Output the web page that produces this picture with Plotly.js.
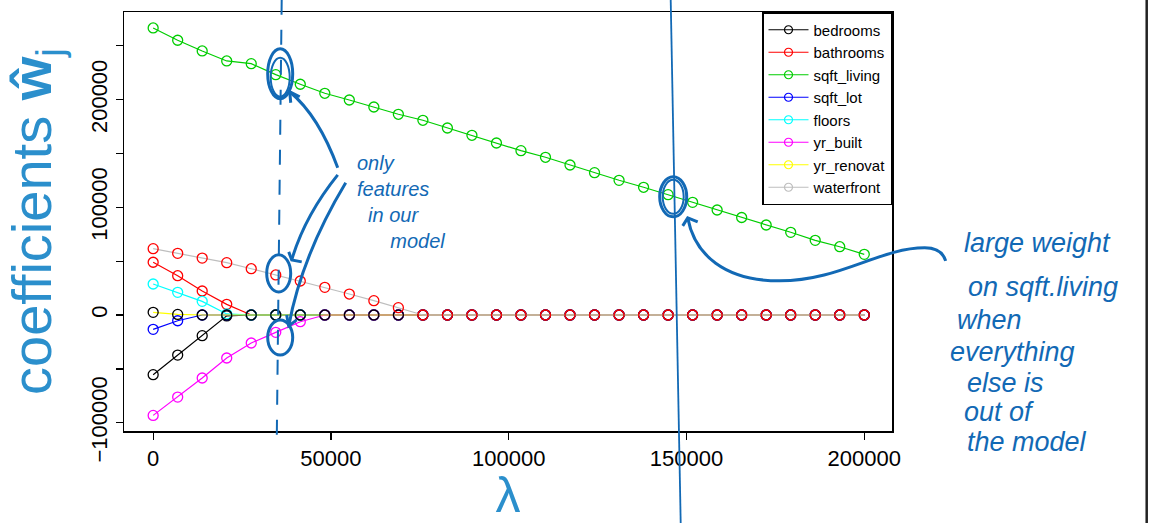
<!DOCTYPE html>
<html>
<head>
<meta charset="utf-8">
<script src="https://cdn.plot.ly/plotly-3.0.1.min.js"></script>
<style>html,body{margin:0;padding:0;background:#fff;}#chart{width:1155px;height:523px;}</style>
</head>
<body>
<div id="chart"></div>
<script>
// ---- data ----
const lambdas = [0, 6897, 13793, 20690, 27586, 34483, 41379, 48276, 55172, 62069,
  68966, 75862, 82759, 89655, 96552, 103448, 110345, 117241, 124138, 131034,
  137931, 144828, 151724, 158621, 165517, 172414, 179310, 186207, 193103, 200000];

const featureNames = ['bedrooms','bathrooms','sqft_living','sqft_lot','floors','yr_built','yr_renovated','waterfront'];
const legendLabels = ['bedrooms','bathrooms','sqft_living','sqft_lot','floors','yr_built','yr_renovat','waterfront'];

const bedrooms = [-55400,-37200,-19200,-800,0,0,0,0,0,0,0,0,0,0,0,0,0,0,0,0,0,0,0,0,0,0,0,0,0,0];
const bathrooms = [49000,36500,22300,9900,0,0,0,0,0,0,0,0,0,0,0,0,0,0,0,0,0,0,0,0,0,0,0,0,0,0];
const sqft_living = [266580,255160,245220,235930,233420,223200,214290,205920,199700,193200,
  186420,180850,173700,166920,159760,152610,146480,139330,132170,125110,
  118620,111740,104680,97530,90560,83600,76820,69390,63440,56380];
const sqft_lot = [-13300,-5300,0,0,0,0,0,0,0,0,0,0,0,0,0,0,0,0,0,0,0,0,0,0,0,0,0,0,0,0];
const floors = [28800,21100,12700,1000,0,0,0,0,0,0,0,0,0,0,0,0,0,0,0,0,0,0,0,0,0,0,0,0,0,0];
const yr_built = [-93200,-76200,-58500,-39900,-26000,-16100,-6200,0,0,0,0,0,0,0,0,0,0,0,0,0,0,0,0,0,0,0,0,0,0,0];
const yr_renovated = [2500,600,0,0,0,0,0,0,0,0,0,0,0,0,0,0,0,0,0,0,0,0,0,0,0,0,0,0,0,0];
const waterfront = [61600,57300,52900,48600,43000,37200,31600,25700,19500,13300,6800,0,0,0,0,0,0,0,0,0,0,0,0,0,0,0,0,0,0,0];

const xTickVals = [0, 50000, 100000, 150000, 200000];
const xTickText = ['0','50000','100000','150000','200000'];
const yTickVals = [-100000, 0, 100000, 200000];
const yTickText = ['\u2212100000','0','100000','200000'];

// ---- styles ----
const seriesList = [bedrooms,bathrooms,sqft_living,sqft_lot,floors,yr_built,yr_renovated,waterfront];
const lineColors = ['#000000','#FF0000','#00CD00','#0000FF','#00FFFF','#FF00FF','#FFFF00','#BEBEBE'];
// matplot default point colours (1:6 recycled)
const pointColors = ['#000000','#FF0000','#00CD00','#0000FF','#00FFFF','#FF00FF','#000000','#FF0000'];

const titleBlue = '#2b8fcc';
const ink = '#1269b5';

const traces = [];
seriesList.forEach((ys, i) => {
  traces.push({
    x: lambdas, y: ys, type: 'scatter', mode: 'lines+markers',
    name: featureNames[i], showlegend: false, hoverinfo: 'x+y+name',
    line: {color: lineColors[i], width: 1.2},
    marker: {symbol: 'circle-open', size: 10, color: pointColors[i], line: {width: 1.3, color: pointColors[i]}}
  });
});
legendLabels.forEach((lab, i) => {
  traces.push({
    x: [null], y: [null], type: 'scatter', mode: 'lines+markers',
    name: lab, showlegend: true,
    line: {color: lineColors[i], width: 1.2},
    marker: {symbol: 'circle-open', size: 8, color: lineColors[i], line: {width: 1.2, color: lineColors[i]}}
  });
});

// pixel -> paper helpers for the hand-drawn notes
const L = 124.3, R = 892.3, T = 12.3, B = 431;
const PX = v => (v - L) / (R - L);
const PY = v => (B - v) / (B - T);
const pt = (x, y) => PX(x).toFixed(4) + ',' + PY(y).toFixed(4);

const inkLine = {color: ink, width: 3};
const shapes = [
  // hand-drawn vertical markers
  {type:'line', xref:'paper', yref:'paper', x0:PX(282), y0:PY(0), x1:PX(277), y1:PY(445), line:{color:ink, width:2, dash:'longdash'}},
  {type:'line', xref:'paper', yref:'paper', x0:PX(671), y0:PY(0), x1:PX(681), y1:PY(523), line:{color:ink, width:1.8}},
  // circles
  {type:'circle', xref:'paper', yref:'paper', x0:PX(268), x1:PX(293), y0:PY(49), y1:PY(99), line:inkLine},
  {type:'circle', xref:'paper', yref:'paper', x0:PX(271), x1:PX(290), y0:PY(58), y1:PY(97), line:{color:ink, width:2}},
  {type:'circle', xref:'paper', yref:'paper', x0:PX(267), x1:PX(291), y0:PY(255), y1:PY(292), line:inkLine},
  {type:'circle', xref:'paper', yref:'paper', x0:PX(268), x1:PX(293), y0:PY(320), y1:PY(355), line:inkLine},
  {type:'circle', xref:'paper', yref:'paper', x0:PX(660), x1:PX(687), y0:PY(177), y1:PY(217), line:inkLine},
  {type:'circle', xref:'paper', yref:'paper', x0:PX(663), x1:PX(684), y0:PY(180), y1:PY(214), line:{color:ink, width:2}},
  // arrows from "only features in our model"
  {type:'path', xref:'paper', yref:'paper', path:'M'+pt(338,168)+' Q'+pt(319,116)+' '+pt(290,92), line:inkLine},
  {type:'path', xref:'paper', yref:'paper', path:'M'+pt(291,103)+' L'+pt(290,92)+' L'+pt(300,97), line:inkLine},
  {type:'path', xref:'paper', yref:'paper', path:'M'+pt(338,175)+' Q'+pt(305,216)+' '+pt(292,260), line:inkLine},
  {type:'path', xref:'paper', yref:'paper', path:'M'+pt(289,252)+' L'+pt(292,260)+' L'+pt(302,262), line:inkLine},
  {type:'path', xref:'paper', yref:'paper', path:'M'+pt(346,183)+' Q'+pt(302,256)+' '+pt(289,326), line:inkLine},
  {type:'path', xref:'paper', yref:'paper', path:'M'+pt(287,315)+' L'+pt(289,326)+' L'+pt(297,320), line:inkLine},
  // big arrow from the right note
  {type:'path', xref:'paper', yref:'paper', path:'M'+pt(946,261)+' Q'+pt(942,248)+' '+pt(925,248)+' C'+pt(880,248)+' '+pt(840,281)+' '+pt(780,281)+' C'+pt(725,281)+' '+pt(695,255)+' '+pt(688,218), line:inkLine},
  {type:'path', xref:'paper', yref:'paper', path:'M'+pt(683,226)+' L'+pt(688,218)+' L'+pt(698,222), line:inkLine},
  // slide border on the right
  {type:'line', xref:'paper', yref:'paper', x0:PX(1147), y0:PY(0), x1:PX(1147), y1:PY(523), line:{color:'#222222', width:2.5}}
];

const noteFont = (s) => ({family:'Liberation Sans, Arial, sans-serif', size:s, color:ink, style:'italic'});
const note = (txt, x, y, s, al) => ({text:txt, xref:'paper', yref:'paper', x:PX(x), y:PY(y), xanchor:'left', yanchor:'middle', align:al || 'left', showarrow:false, font:noteFont(s)});
const nb = '\u00a0';
const annotations = [
  note('only<br>features<br>' + nb + nb + 'in our<br>' + nb.repeat(6) + 'model', 355, 202, 20),
  note('large weight', 962, 243, 27),
  note('on sqft.living', 966, 287, 27),
  note('when', 955, 320, 27),
  note('everything', 948, 352, 27),
  note('else is', 965, 383, 27),
  note('out of', 962, 412, 27),
  note('the model', 965, 442, 27)
];

const minorTicks = {ticks: 'outside', ticklen: 7, tickwidth: 1.3, tickcolor: '#000000', showgrid: false};

const layout = {
  width: 1155, height: 523,
  margin: {l: 124, r: 263, t: 12, b: 92},
  paper_bgcolor: '#ffffff', plot_bgcolor: '#ffffff',
  font: {family: 'Liberation Sans, Arial, sans-serif', color: '#000000'},
  showlegend: true,
  legend: {x: 1, xanchor: 'right', y: 1, yanchor: 'top', bgcolor: '#ffffff', bordercolor: '#000000', borderwidth: 1.5,
           itemwidth: 40, font: {size: 15, color: '#000000'}},
  xaxis: {range: [-8200, 207800], tickmode: 'array', tickvals: xTickVals, ticktext: xTickText,
          ticks: 'outside', ticklen: 7, tickwidth: 1.3, tickcolor: '#000000',
          showline: true, mirror: true, linecolor: '#000000', linewidth: 1.5,
          showgrid: false, zeroline: false, tickfont: {size: 22},
          title: {text: 'λ', font: {size: 50, color: titleBlue}}},
  yaxis: {range: [-107700, 281400], tickmode: 'array', tickvals: yTickVals, ticktext: yTickText,
          tickangle: -90, ticks: 'outside', ticklen: 7, tickwidth: 1.3, tickcolor: '#000000',
          minor: Object.assign({tick0: 0, dtick: 50000}, minorTicks),
          showline: true, mirror: true, linecolor: '#000000', linewidth: 1.5,
          showgrid: false, zeroline: false, tickfont: {size: 22},
          title: {text: 'coefficients <b>ŵ</b><sub>j</sub>', font: {size: 56, color: titleBlue}}},
  shapes: shapes,
  annotations: annotations
};

Plotly.newPlot('chart', traces, layout, {displayModeBar: false, staticPlot: true});
</script>
</body>
</html>
